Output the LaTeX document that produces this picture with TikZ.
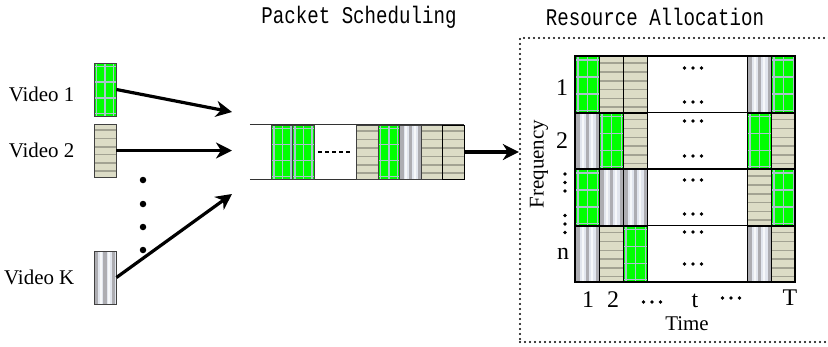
\documentclass[tikz,border=0pt]{standalone}
\usepackage{fontspec}
\setmainfont{Liberation Serif}
\newfontfamily\titlefont[FakeStretch=0.8]{Liberation Mono}
\usepackage{xcolor}
\usetikzlibrary{arrows.meta,positioning,calc}

\definecolor{pktgreen}{HTML}{00FF00}
\definecolor{gridblue}{HTML}{A8C4CC}
\definecolor{pktbeige}{HTML}{DCDCC6}
\definecolor{beigeline}{HTML}{A2A292}
\definecolor{pktgray}{HTML}{E2E6EE}
\definecolor{grayline}{HTML}{ADADB2}

% shorthands for the path picture box
\newcommand{\ppnw}{path picture bounding box.north west}
\newcommand{\ppne}{path picture bounding box.north east}
\newcommand{\ppsw}{path picture bounding box.south west}
\newcommand{\ppse}{path picture bounding box.south east}

\tikzset{
  pkt/.style={rectangle, draw=black!75, line width=0.9bp, inner sep=0pt,
    minimum width=22bp, minimum height=53bp},
  % green packet: plaid
  greenpkt/.style={pkt, fill=pktgreen, path picture={
    \foreach \f in {0.1,0.5,0.9}
      \draw[gridblue, line width=1.3bp] ($(\ppnw)!\f!(\ppne)$) -- ($(\ppsw)!\f!(\ppse)$);
    \foreach \f in {0.06,0.36,0.66,0.95}
      \draw[gridblue, line width=1.3bp] ($(\ppnw)!\f!(\ppsw)$) -- ($(\ppne)!\f!(\ppse)$);
  }},
  % beige packet: horizontal stripes
  beigepkt/.style={pkt, fill=pktbeige, path picture={
    \foreach \f in {0.11,0.27,0.43,0.58,0.74,0.89}
      \draw[beigeline, line width=1.5bp] ($(\ppnw)!\f!(\ppsw)$) -- ($(\ppne)!\f!(\ppse)$);
  }},
  % gray packet: vertical stripes
  graypkt/.style={pkt, fill=pktgray, path picture={
    \foreach \f in {0.1,0.5,0.9}
      \draw[grayline, line width=3.2bp] ($(\ppnw)!\f!(\ppne)$) -- ($(\ppsw)!\f!(\ppse)$);
    \foreach \f in {0.3,0.7}
      \draw[white!70!pktgray, line width=2bp] ($(\ppnw)!\f!(\ppne)$) -- ($(\ppsw)!\f!(\ppse)$);
  }},
  cell/.style={draw=black, line width=1.2bp, minimum width=24bp,
    minimum height=56.5bp, anchor=north west},
  flow/.style={line width=3.2bp, -{Stealth[length=16bp,width=16bp,inset=5bp]}},
  lbl/.style={font=\fontsize{21}{24}\selectfont, inner sep=0pt},
  axis/.style={font=\fontsize{24}{28}\selectfont, inner sep=0pt},
  title/.style={font=\titlefont\fontsize{24}{26}\selectfont, inner sep=0pt},
  dot/.style={circle, fill=black, inner sep=0pt, minimum size=6.5bp},
  sdot/.style={circle, fill=black, inner sep=0pt, minimum size=3.8bp}
}

% three small dots in a row / column
\newcommand{\rowdots}[1]{\foreach \d in {-8.5,0,8.5} {\node[sdot] at ($(#1)+(\d,0)$) {};}}
\newcommand{\coldots}[1]{\foreach \d in {-8.5,0,8.5} {\node[sdot] at ($(#1)+(0,\d)$) {};}}

\begin{document}
\begin{tikzpicture}[x=1bp, y=-1bp]
  \useasboundingbox (0,0) rectangle (828,346);

  % titles
  \node[title] (ps) at (359,17) {Packet Scheduling};
  \node[title] (ra) at (655,17) {Resource Allocation};

  % video sources
  \node[greenpkt] (v1) at (105,89.5) {};
  \node[beigepkt] (v2) at (105,150.5) {};
  \node[graypkt] (vK) at (105,277.5) {};
  \node[lbl, left=19bp of v1, yshift=-5bp] (l1) {Video 1};
  \node[lbl, left=19bp of v2] (l2) {Video 2};
  \node[lbl, left=19bp of vK] (lK) {Video K};
  \foreach \y in {180,204,227,250}
    \node[dot] at (143,\y) {};

  \coordinate (in1) at (232,112);
  \coordinate (in2) at (232,150.5);
  \coordinate (inK) at (232,194);
  \draw[flow] (v1.east) -- (in1);
  \draw[flow] (v2.east) -- (in2);
  \draw[flow] (vK.east) -- (inK);

  % scheduling queue
  \node[minimum width=214bp, minimum height=54bp, inner sep=0pt] (queue) at (357,152) {};
  \draw[black!80, line width=1bp] (queue.north west) -- (queue.north east)
                                  (queue.south west) -- (queue.south east);
  \node[greenpkt, minimum width=21.5bp, minimum height=54bp] (q1) at (282.5,152) {};
  \node[greenpkt, minimum width=21.5bp, minimum height=54bp] (q2) at (303.5,152) {};
  \draw[line width=2bp, dash pattern=on 4bp off 3bp] (318,152) -- (352,152);
  \node[beigepkt, minimum width=21.5bp, minimum height=54bp] (q3) at (367.5,152) {};
  \node[greenpkt, minimum width=21.5bp, minimum height=54bp] (q4) at (389,152) {};
  \node[graypkt, minimum width=21.5bp, minimum height=54bp] (q5) at (410.5,152) {};
  \node[beigepkt, minimum width=21.5bp, minimum height=54bp] (q6) at (432,152) {};
  \node[beigepkt, draw=black, minimum width=21.5bp, minimum height=54bp] (q7) at (453.5,152) {};

  % allocation frame
  \node[draw, line width=2.3bp, dash pattern=on 0bp off 5bp, line cap=round,
        minimum width=320bp, minimum height=304bp] (alloc) at (680,190) {};
  \draw[flow] (q7.east) -- (q7.east -| alloc.west);

  % time-frequency grid
  \foreach \a/\b/\c/\d/\e [count=\r from 0] in {
      greenpkt/beigepkt/beigepkt/graypkt/greenpkt,
      graypkt/greenpkt/beigepkt/greenpkt/beigepkt,
      greenpkt/graypkt/graypkt/beigepkt/greenpkt,
      graypkt/beigepkt/greenpkt/graypkt/beigepkt} {
    \node[\a, cell] (c\r a) at (575,{56+56.5*\r}) {};
    \node[\b, cell] (c\r b) at (599,{56+56.5*\r}) {};
    \node[\c, cell] (c\r c) at (623,{56+56.5*\r}) {};
    \node[\d, cell] (c\r d) at (747,{56+56.5*\r}) {};
    \node[\e, cell] (c\r e) at (771,{56+56.5*\r}) {};
  }
  \node[draw, line width=2bp, minimum width=220bp, minimum height=226bp,
        inner sep=0pt] (grid) at (685,169) {};
  \foreach \r in {1,2,3}
    \draw[line width=1.5bp] (grid.west |- c\r a.north) -- (grid.east |- c\r a.north);

  % dots inside the empty slots
  \foreach \y in {68,102,121,156,180,214,232,264} {
    \rowdots{693,\y}
  }

  % frequency axis
  \node[axis, anchor=base] (f1) at (562,95) {1};
  \node[axis, anchor=base] (f2) at (562,148) {2};
  \coldots{565,182.5}
  \coldots{565,224}
  \node[axis, anchor=base] (fn) at (563,259) {n};
  \node[lbl, rotate=90] (freq) at (539,164) {Frequency};

  % time axis
  \node[axis, anchor=base] (t1) at (588,307.5) {1};
  \node[axis, anchor=base] (t2) at (613,307.5) {2};
  \rowdots{652,302}
  \node[axis, anchor=base] (tt) at (695,307.5) {t};
  \rowdots{731,298}
  \node[axis, anchor=base] (tT) at (790,305) {T};
  \node[lbl, anchor=base] (time) at (687,330) {Time};
\end{tikzpicture}
\end{document}
